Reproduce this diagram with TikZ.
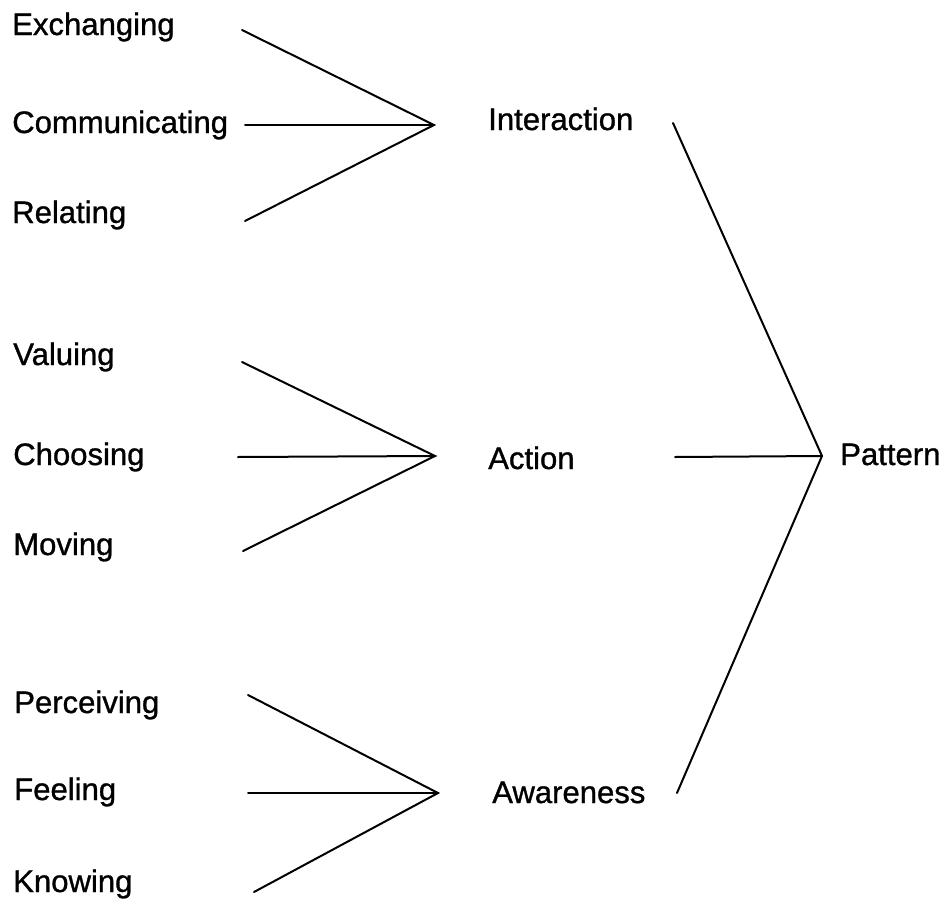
\documentclass[tikz,border=0pt]{standalone}
\usepackage{fontspec}
\setmainfont{Liberation Sans}
\newfontfamily\lblfont[FakeBold=1]{Liberation Sans}
\begin{document}
\begin{tikzpicture}[x=0.75pt,y=-0.75pt,
  lbl/.style={anchor=base west,inner sep=0pt,font=\lblfont\fontsize{23.3pt}{28pt}\selectfont},
  link/.style={line width=1.5pt,line cap=round,line join=miter}]
\useasboundingbox (0,0) rectangle (946,903);

% first-level concepts
\node[lbl] (exch) at (12,35)  {Exchanging};
\node[lbl] (comm) at (12,133) {Communicating};
\node[lbl] (rela) at (12,223) {Relating};
\node[lbl] (valu) at (13,365) {Valuing};
\node[lbl] (choo) at (13,465) {Choosing};
\node[lbl] (movi) at (13,555) {Moving};
\node[lbl] (perc) at (14,713) {Perceiving};
\node[lbl] (feel) at (14,800) {Feeling};
\node[lbl] (know) at (13,892) {Knowing};

% second-level concepts
\node[lbl] (inter) at (488,130) {Interaction};
\node[lbl] (act)   at (488,469) {Action};
\node[lbl] (aware) at (492,803) {Awareness};

% top concept
\node[lbl] (patt) at (840,465) {Pattern};

% end points of the connectors
\coordinate (exchR) at (242,30);
\coordinate (commR) at (245,125);
\coordinate (relaR) at (245,221);
\coordinate (interL) at (434,125);
\coordinate (valuR) at (242,362);
\coordinate (chooR) at (238,457);
\coordinate (moviR) at (243,551);
\coordinate (actL) at (435,456);
\coordinate (percR) at (248,695);
\coordinate (feelR) at (248,793);
\coordinate (knowR) at (254,892);
\coordinate (awareL) at (438,793);
\coordinate (interR) at (673,123);
\coordinate (actR) at (675,457);
\coordinate (awareR) at (677,793);
\coordinate (pattL) at (822,456);

% connectors
\draw[link] (exchR) -- (interL) -- (relaR);
\draw[link] (commR) -- (interL);
\draw[link] (valuR) -- (actL) -- (moviR);
\draw[link] (chooR) -- (actL);
\draw[link] (percR) -- (awareL) -- (knowR);
\draw[link] (feelR) -- (awareL);
\draw[link] (interR) -- (pattL) -- (awareR);
\draw[link] (actR) -- (pattL);
\end{tikzpicture}
\end{document}
